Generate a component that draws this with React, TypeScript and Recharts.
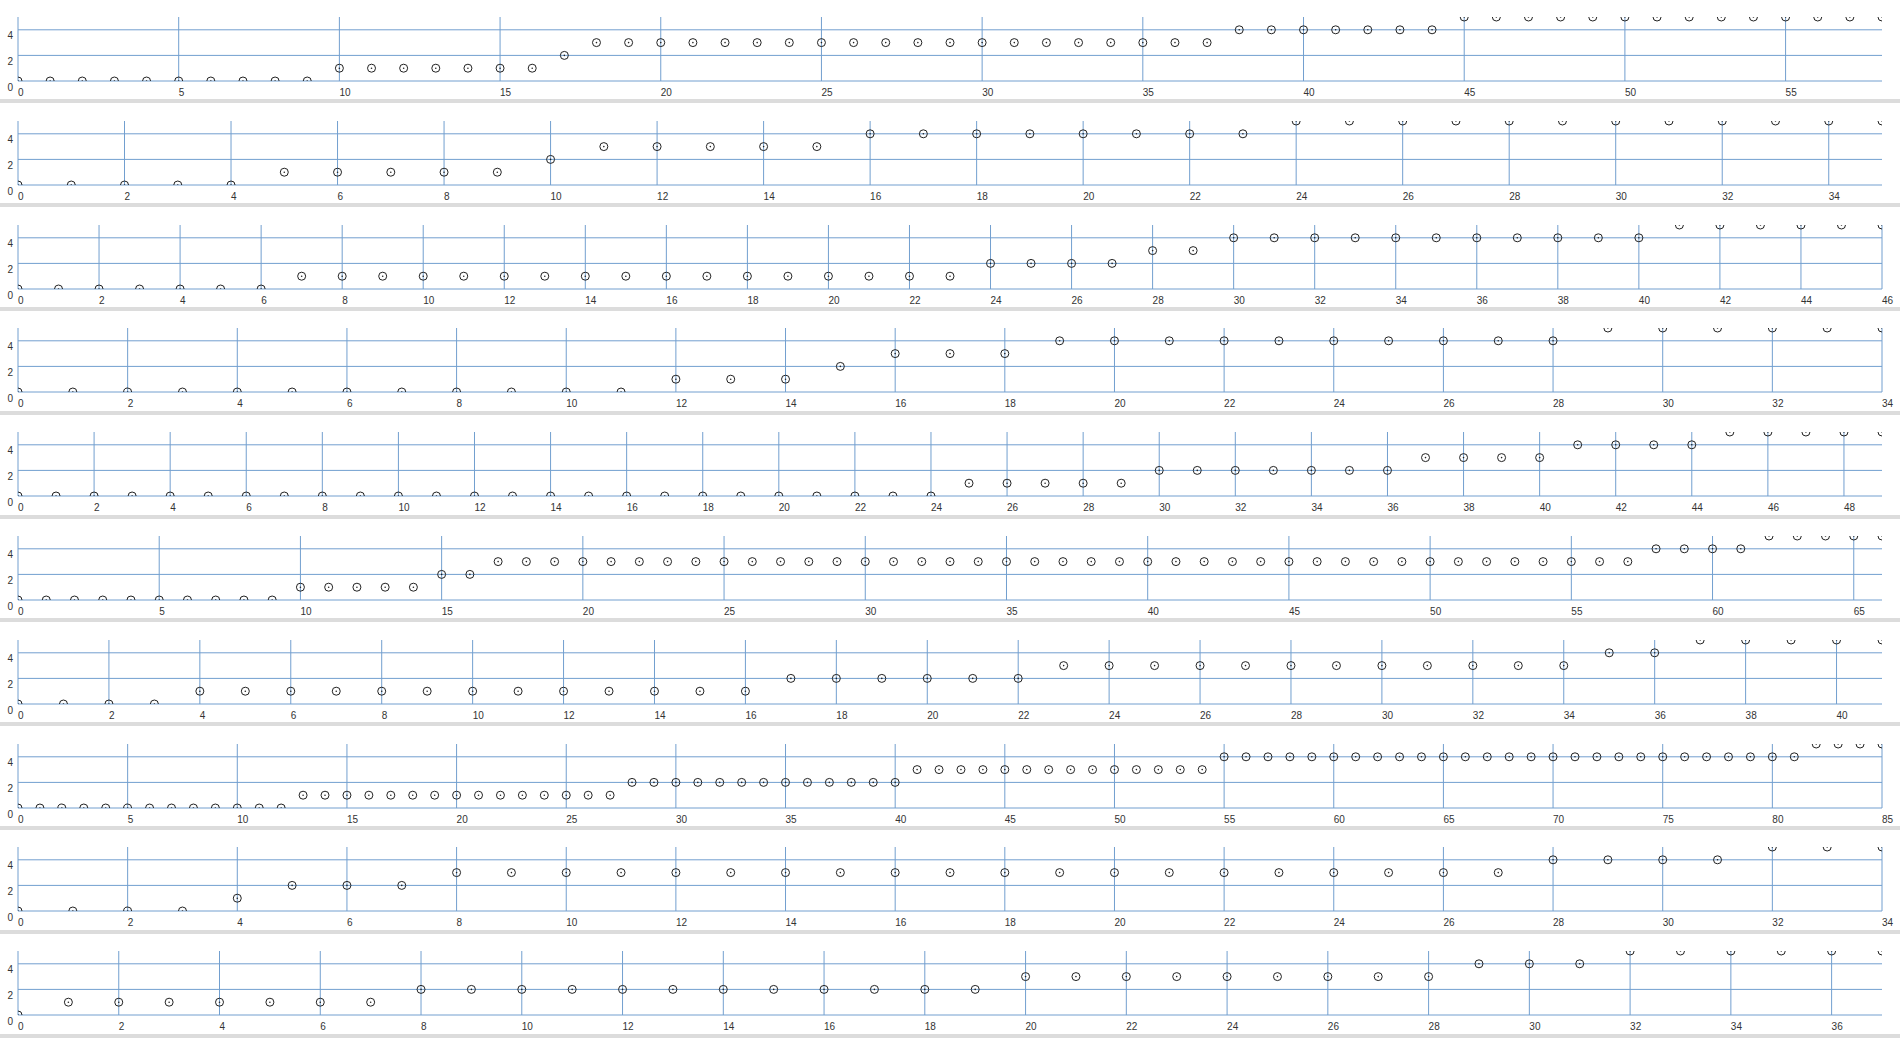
import { ReferenceLine, Scatter, ScatterChart, XAxis, YAxis } from 'recharts';

// step values per panel, one entry per index 0..N
const row1 = [
  0, 0, 0, 0, 0, 0, 0, 0, 0, 0,
  1, 1, 1, 1, 1, 1, 1,
  2,
  3, 3, 3, 3, 3, 3, 3, 3, 3, 3, 3, 3, 3, 3, 3, 3, 3, 3, 3, 3,
  4, 4, 4, 4, 4, 4, 4,
  5, 5, 5, 5, 5, 5, 5, 5, 5, 5, 5, 5, 5, 5,
];
const row2 = [
  0, 0, 0, 0, 0,
  1, 1, 1, 1, 1,
  2,
  3, 3, 3, 3, 3,
  4, 4, 4, 4, 4, 4, 4, 4,
  5, 5, 5, 5, 5, 5, 5, 5, 5, 5, 5, 5,
];
const row3 = [
  0, 0, 0, 0, 0, 0, 0,
  1, 1, 1, 1, 1, 1, 1, 1, 1, 1, 1, 1, 1, 1, 1, 1, 1,
  2, 2, 2, 2,
  3, 3,
  4, 4, 4, 4, 4, 4, 4, 4, 4, 4, 4,
  5, 5, 5, 5, 5, 5,
];
const row4 = [
  0, 0, 0, 0, 0, 0, 0, 0, 0, 0, 0, 0,
  1, 1, 1,
  2,
  3, 3, 3,
  4, 4, 4, 4, 4, 4, 4, 4, 4, 4,
  5, 5, 5, 5, 5, 5,
];
const row5 = [
  0, 0, 0, 0, 0, 0, 0, 0, 0, 0, 0, 0, 0, 0, 0, 0, 0, 0, 0, 0, 0, 0, 0, 0, 0,
  1, 1, 1, 1, 1,
  2, 2, 2, 2, 2, 2, 2,
  3, 3, 3, 3,
  4, 4, 4, 4,
  5, 5, 5, 5, 5,
];
const row6 = [
  0, 0, 0, 0, 0, 0, 0, 0, 0, 0,
  1, 1, 1, 1, 1,
  2, 2,
  3, 3, 3, 3, 3, 3, 3, 3, 3, 3, 3, 3, 3, 3, 3, 3, 3, 3, 3, 3, 3,
  3, 3, 3, 3, 3, 3, 3, 3, 3, 3, 3, 3, 3, 3, 3, 3, 3, 3, 3, 3,
  4, 4, 4, 4,
  5, 5, 5, 5, 5,
];
const row7 = [
  0, 0, 0, 0,
  1, 1, 1, 1, 1, 1, 1, 1, 1, 1, 1, 1, 1,
  2, 2, 2, 2, 2, 2,
  3, 3, 3, 3, 3, 3, 3, 3, 3, 3, 3, 3,
  4, 4,
  5, 5, 5, 5, 5,
];
const row8 = [
  0, 0, 0, 0, 0, 0, 0, 0, 0, 0, 0, 0, 0,
  1, 1, 1, 1, 1, 1, 1, 1, 1, 1, 1, 1, 1, 1, 1,
  2, 2, 2, 2, 2, 2, 2, 2, 2, 2, 2, 2, 2,
  3, 3, 3, 3, 3, 3, 3, 3, 3, 3, 3, 3, 3, 3,
  4, 4, 4, 4, 4, 4, 4, 4, 4, 4, 4, 4, 4, 4, 4, 4, 4, 4, 4, 4, 4, 4, 4, 4, 4, 4, 4,
  5, 5, 5, 5,
];
const row9 = [
  0, 0, 0, 0,
  1,
  2, 2, 2,
  3, 3, 3, 3, 3, 3, 3, 3, 3, 3, 3, 3, 3, 3, 3, 3, 3, 3, 3, 3,
  4, 4, 4, 4,
  5, 5, 5,
];
const row10 = [
  0,
  1, 1, 1, 1, 1, 1, 1,
  2, 2, 2, 2, 2, 2, 2, 2, 2, 2, 2, 2,
  3, 3, 3, 3, 3, 3, 3, 3, 3,
  4, 4, 4,
  5, 5, 5, 5, 5, 5,
];

const rows = [row1, row2, row3, row4, row5, row6, row7, row8, row9, row10];
const tickSteps = [5, 2, 2, 2, 2, 5, 2, 5, 2, 2];
const yTicks = [0, 2, 4];

const GRID = '#729fcf';
const INK = '#222';
const LABEL = '#333';
const PANEL_H = 103.8;

const Ring = (props: any) => {
  const { cx, cy } = props;
  if (cx == null || cy == null) return null;
  return (
    <g>
      <circle cx={cx} cy={cy} r={4} fill="none" stroke={INK} strokeWidth={1} />
      <circle cx={cx} cy={cy} r={0.8} fill={INK} />
    </g>
  );
};

const XTick = (props: any) => {
  const { x, y, payload } = props;
  return (
    <text x={x} y={y + 11} textAnchor="start" dominantBaseline="central" fontSize={10} fill={LABEL}>
      {payload.value}
    </text>
  );
};

const YTick = (props: any) => {
  const { x, y, payload } = props;
  return (
    <text x={x - 5} y={y + 6} textAnchor="end" dominantBaseline="central" fontSize={10} fill={LABEL}>
      {payload.value}
    </text>
  );
};

function Panel({ values, step, index }: { values: number[]; step: number; index: number }) {
  const max = values.length - 1;
  const data = values.map((v, i) => ({ x: i, y: v }));
  const ticks: number[] = [];
  for (let t = 0; t <= max; t += step) ticks.push(t);
  const top = Math.round(index * PANEL_H);
  const bar = Math.round(index * PANEL_H + 99.4);

  return (
    <>
      <div style={{ position: 'absolute', left: 0, top, width: 1900, height: 100 }}>
        <ScatterChart width={1900} height={100} margin={{ top: 17, right: 18, bottom: 0, left: 0 }}>
          <XAxis
            dataKey="x"
            type="number"
            domain={[0, max]}
            ticks={ticks}
            interval={0}
            height={19}
            tickSize={0}
            tickMargin={0}
            axisLine={false}
            tickLine={false}
            allowDataOverflow
            tick={<XTick />}
          />
          <YAxis
            dataKey="y"
            type="number"
            domain={[0, 5]}
            ticks={yTicks}
            interval={0}
            width={18}
            tickSize={0}
            tickMargin={0}
            axisLine={false}
            tickLine={false}
            allowDataOverflow
            tick={<YTick />}
          />
          {yTicks.map((t) => (
            <ReferenceLine key={`h${t}`} y={t} stroke={GRID} strokeWidth={1} />
          ))}
          {ticks.map((t) => (
            <ReferenceLine key={`v${t}`} x={t} stroke={GRID} strokeWidth={1} />
          ))}
          <Scatter data={data} shape={<Ring />} isAnimationActive={false} />
        </ScatterChart>
      </div>
      <div style={{ position: 'absolute', left: 0, top: bar, width: 1900, height: 4, background: '#dcdcdc' }} />
    </>
  );
}

export default function App() {
  return (
    <div
      style={{
        position: 'absolute',
        left: 0,
        top: 0,
        width: 1900,
        height: 1038,
        overflow: 'hidden',
        background: '#fff',
        fontFamily: '"Liberation Sans", Arial, sans-serif',
      }}
    >
      {rows.map((values, i) => (
        <Panel key={i} values={values} step={tickSteps[i]} index={i} />
      ))}
    </div>
  );
}
